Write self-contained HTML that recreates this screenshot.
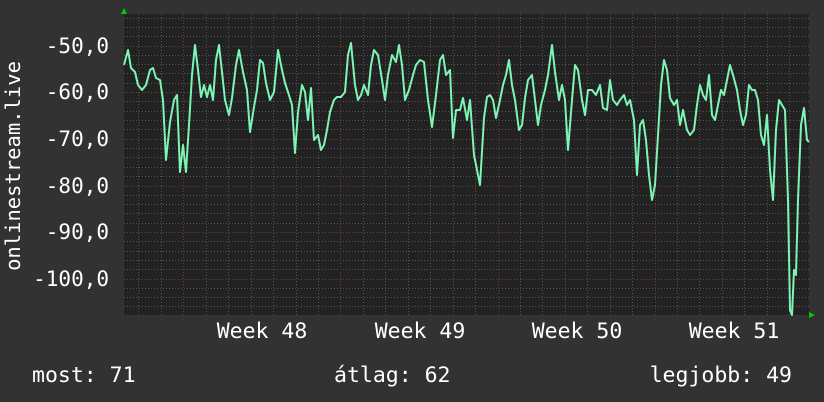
<!DOCTYPE html>
<html><head><meta charset="utf-8"><style>
html,body{margin:0;padding:0;background:#333;}
svg{display:block}
text{font-family:"DejaVu Sans Mono","Liberation Mono",monospace;fill:#fff;font-size:20.5px}
.b{font-size:21.5px}
.y{font-size:21px}
</style></head><body>
<svg width="824" height="402" xmlns="http://www.w3.org/2000/svg">
<rect width="824" height="402" fill="#323232"/>
<rect x="124" y="14" width="685" height="301" fill="#222"/>
<g stroke="#555" stroke-width="1" stroke-dasharray="1,2">
<path d="M124 18.5H809M124 27.5H809M124 36.5H809M124 55.5H809M124 64.5H809M124 73.5H809M124 83.5H809M124 101.5H809M124 111.5H809M124 120.5H809M124 129.5H809M124 148.5H809M124 157.5H809M124 167.5H809M124 176.5H809M124 195.5H809M124 204.5H809M124 213.5H809M124 223.5H809M124 241.5H809M124 251.5H809M124 260.5H809M124 269.5H809M124 288.5H809M124 297.5H809M124 306.5H809"/>
<path d="M138.5 14V315M161.5 14V315M206.5 14V315M228.5 14V315M251.5 14V315M273.5 14V315M296.5 14V315M318.5 14V315M363.5 14V315M385.5 14V315M408.5 14V315M430.5 14V315M453.5 14V315M475.5 14V315M520.5 14V315M542.5 14V315M565.5 14V315M587.5 14V315M610.5 14V315M632.5 14V315M677.5 14V315M699.5 14V315M722.5 14V315M744.5 14V315M767.5 14V315M789.5 14V315"/>
</g>
<g stroke="#7a3a3a" stroke-width="1" stroke-dasharray="1,2">
<path d="M124 46.5H809M124 92.5H809M124 139.5H809M124 186.5H809M124 232.5H809M124 279.5H809"/>
<path d="M183.5 14V315M340.5 14V315M498.5 14V315M655.5 14V315"/>
</g>
<polygon points="121,14 127,14 124,8" fill="#0c0"/>
<polygon points="809,312 809,318 815,315" fill="#0c0"/>
<polyline fill="none" stroke="#7df5b5" stroke-width="2" stroke-linejoin="round" points="124,65 128,50 131,68 135,72 138,85 142,90 146,85 150,70 153,68 156,78 160,80 163,100 166,160 170,122 174,100 177,95 180,172 183,145 186,172 189,125 192,75 195,45 198,70 201,97 204,85 207,97 210,85 213,100 216,60 219,45 222,72 225,100 229,115 232,98 236,65 239,50 243,72 247,90 250,132 254,107 257,90 260,60 263,63 266,83 270,100 274,92 278,50 282,70 285,83 288,92 292,105 295,153 298,112 302,85 305,92 308,120 311,88 314,140 318,135 321,150 324,145 327,130 330,112 334,100 337,97 341,97 345,92 348,55 351,43 355,85 358,100 361,95 364,85 368,95 371,65 374,50 378,55 382,80 385,100 388,75 392,55 396,62 399,45 402,65 405,100 409,90 413,75 416,65 420,60 424,62 428,100 432,127 436,95 440,60 443,55 446,75 450,70 453,138 456,110 460,110 463,98 467,120 470,100 474,155 477,170 480,185 484,118 487,97 490,95 493,100 496,118 500,100 503,85 506,75 509,60 512,85 515,100 519,130 522,125 525,98 528,80 532,75 535,100 538,125 541,105 545,90 548,75 552,45 555,72 559,100 562,85 565,100 568,150 572,100 575,65 578,70 582,100 585,115 588,90 592,90 596,95 600,85 603,108 607,110 610,80 613,100 617,105 620,100 624,95 627,105 630,100 634,120 637,175 640,125 643,120 646,140 649,175 652,200 655,185 658,135 661,85 664,60 667,70 670,98 674,105 677,100 680,125 683,110 687,130 690,135 694,130 697,105 700,85 703,95 706,100 709,75 712,115 715,120 718,105 721,90 724,95 727,80 730,65 733,75 737,90 740,110 743,125 746,115 749,85 752,90 755,90 758,100 761,135 764,145 767,115 770,170 773,200 776,130 779,100 782,105 785,110 788,200 790,310 792,315 794,270 796,275 798,200 801,125 804,108 807,140 809,142"/>
<g text-anchor="end">
<text class="y" x="109" y="53">-50,0</text>
<text class="y" x="109" y="99">-60,0</text>
<text class="y" x="109" y="146">-70,0</text>
<text class="y" x="109" y="193">-80,0</text>
<text class="y" x="109" y="239">-90,0</text>
<text class="y" x="109" y="286">-100,0</text>
</g>
<text transform="translate(20,166) rotate(-90)" text-anchor="middle">onlinestream.live</text>
<g text-anchor="middle">
<text class="b" x="262" y="338">Week 48</text>
<text class="b" x="420" y="338">Week 49</text>
<text class="b" x="577" y="338">Week 50</text>
<text class="b" x="734" y="338">Week 51</text>
</g>
<text class="b" x="32" y="382">most: 71</text>
<text class="b" x="334" y="382">átlag: 62</text>
<text class="b" x="792" y="382" text-anchor="end">legjobb: 49</text>
</svg>
</body></html>
